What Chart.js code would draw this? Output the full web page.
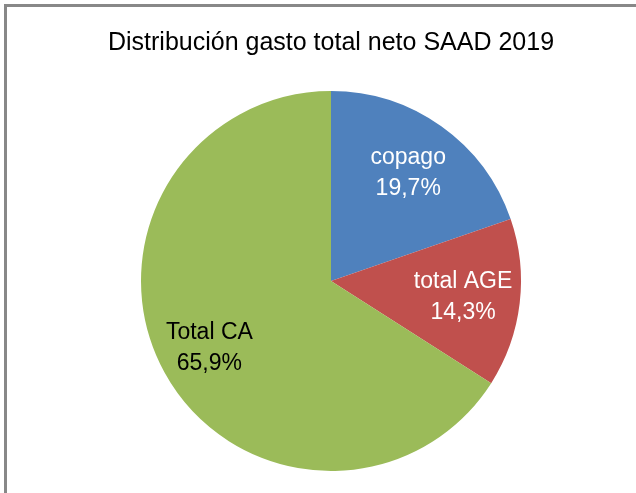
<!DOCTYPE html>
<html>
<head>
<meta charset="utf-8">
<script src="https://cdn.jsdelivr.net/npm/chart.js@4"></script>
<style>
  html, body { margin: 0; padding: 0; background: #fff; }
  #wrap { width: 636px; height: 493px; }
</style>
</head>
<body>
<div id="wrap"><canvas id="pieChart" width="636" height="493"></canvas></div>
<script>
const labels = ["copago", "total AGE", "Total CA"];
const shares = [19.7, 14.3, 65.9];
const colors = ["#4F81BD", "#C0504D", "#9BBB59"];
const labelColors = ["#ffffff", "#ffffff", "#000000"];

const FONT = "'Liberation Sans', sans-serif";

// grey frame, cut at right and bottom like the screenshot
const framePlugin = {
  id: "frame",
  beforeDraw(chart) {
    const ctx = chart.ctx;
    ctx.save();
    ctx.strokeStyle = "#888888";
    ctx.lineWidth = 3;
    ctx.strokeRect(5.5, 5.5, 700, 600);
    ctx.restore();
  }
};

// label + value inside each slice
const sliceLabels = {
  id: "sliceLabels",
  afterDatasetsDraw(chart) {
    const ctx = chart.ctx;
    const meta = chart.getDatasetMeta(0);
    ctx.save();
    ctx.font = "23px " + FONT;
    ctx.textAlign = "center";
    ctx.textBaseline = "middle";
    meta.data.forEach((arc, i) => {
      const mid = (arc.startAngle + arc.endAngle) / 2;
      const r = arc.outerRadius * (i === 2 ? 0.73 : 0.70);
      const x = arc.x + Math.cos(mid) * r;
      const y = arc.y + Math.sin(mid) * r;
      ctx.fillStyle = labelColors[i];
      ctx.fillText(labels[i], x, y - 15);
      ctx.fillText(shares[i].toFixed(1).replace(".", ",") + "%", x, y + 16);
    });
    ctx.restore();
  }
};

new Chart(document.getElementById("pieChart"), {
  type: "pie",
  data: {
    labels,
    datasets: [{
      data: shares,
      backgroundColor: colors,
      borderWidth: 0
    }]
  },
  options: {
    responsive: false,
    animation: false,
    layout: { padding: { left: 26, right: 0, top: 0, bottom: 22 } },
    plugins: {
      legend: { display: false },
      tooltip: { enabled: false },
      title: {
        display: true,
        text: "Distribución gasto total neto SAAD 2019",
        color: "#000",
        font: { family: FONT, size: 25, weight: "normal", lineHeight: 1.2 },
        padding: { top: 28, bottom: 33 }
      }
    }
  },
  plugins: [framePlugin, sliceLabels]
});
</script>
</body>
</html>
